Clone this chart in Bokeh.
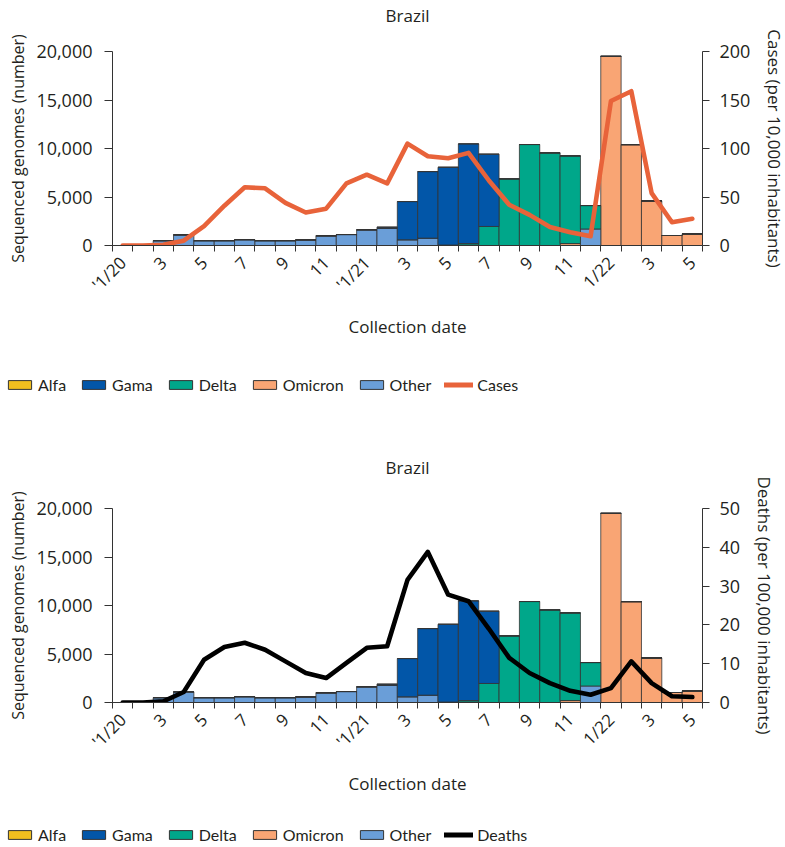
import math
from bokeh.plotting import figure
from bokeh.models import (Range1d, LinearAxis, FixedTicker, NumeralTickFormatter,
                          Legend, LegendItem, ColumnDataSource, Title)
from bokeh.layouts import column, row
from bokeh.embed import file_html
from bokeh.resources import INLINE

# ---------------- data (monthly, Jan 2020 .. May 2022) ----------------
months = ["2020-01", "2020-02", "2020-03", "2020-04", "2020-05", "2020-06",
          "2020-07", "2020-08", "2020-09", "2020-10", "2020-11", "2020-12",
          "2021-01", "2021-02", "2021-03", "2021-04", "2021-05", "2021-06",
          "2021-07", "2021-08", "2021-09", "2021-10", "2021-11", "2021-12",
          "2022-01", "2022-02", "2022-03", "2022-04", "2022-05"]
x_tick_labels = ["'1/20", "", "3", "", "5", "", "7", "", "9", "", "11", "",
                 "'1/21", "", "3", "", "5", "", "7", "", "9", "", "11", "",
                 "1/22", "", "3", "", "5"]

alfa = [0] * 29
gama = [0, 0, 0, 0, 0, 0, 0, 0, 0, 0, 0, 0,
        0, 120, 3940, 6860, 8020, 10280, 7460, 0, 0, 0, 0, 0,
        0, 0, 0, 0, 0]
delta = [0, 0, 0, 0, 0, 0, 0, 0, 0, 0, 0, 0,
         0, 0, 0, 0, 0, 150, 1960, 6870, 10410, 9550, 9040, 2420,
         0, 0, 0, 0, 0]
omicron = [0, 0, 0, 0, 0, 0, 0, 0, 0, 0, 0, 0,
           0, 0, 0, 0, 0, 0, 0, 0, 0, 0, 200, 0,
           19500, 10400, 4600, 1030, 1200]
other = [0, 0, 500, 1100, 500, 500, 600, 500, 500, 580, 1000, 1130,
         1620, 1770, 590, 760, 50, 50, 0, 0, 0, 0, 0, 1700,
         0, 0, 0, 0, 0]

cases = [0, 0, 0.7, 5, 20, 41, 60, 59, 44, 34, 38, 64,
         73, 64, 105, 92, 90, 95.5, 67, 42, 31.6, 19, 13.7, 9.6,
         149, 159, 54, 24, 27.5]
deaths = [0, 0, 0.3, 2.7, 11, 14.3, 15.4, 13.6, 10.6, 7.6, 6.3, 10.2,
          14.1, 14.5, 31.6, 38.8, 27.8, 26.1, 19.0, 11.5, 7.6, 5.0, 3.0, 2.0,
          3.7, 10.6, 5.0, 1.6, 1.4]

left_ticks = [0, 5000, 10000, 15000, 20000]
series_names = ["Alfa", "Gama", "Delta", "Omicron", "Other"]
chart_title = "Brazil"

COL = {"Alfa": "#F1BE1F", "Gama": "#0256A8", "Delta": "#00A78A",
       "Omicron": "#F9A574", "Other": "#6A9ED8"}
TXT = "#231F20"
AX = "#333333"
FONT = "Open Sans"
LEG_FONT = "Lato"

W = 785
FW, FH = 590, 194
LEFT, RIGHT, BOTTOM = 112, 83, 120


def blank_fig(height):
    q = figure(width=W, height=height, output_backend="svg",
               toolbar_location=None, x_range=Range1d(0, W),
               y_range=Range1d(0, height), x_axis_type=None, y_axis_type=None,
               min_border=0, title=None)
    q.outline_line_color = None
    q.xgrid.visible = False
    q.ygrid.visible = False
    return q


def make_chart(line_vals, line_color, r_max, r_ticks, r_label, top, spacer_standoff):
    n = len(months)
    centers = [i + 0.5 for i in range(n)]
    src = ColumnDataSource(dict(x=centers, alfa=alfa, gama=gama, delta=delta,
                                omicron=omicron, other=other, line=line_vals))

    p = figure(frame_width=FW, frame_height=FH, output_backend="svg",
               toolbar_location=None, x_range=Range1d(0, n),
               y_range=Range1d(0, 20000), title=None,
               min_border_left=LEFT, min_border_right=RIGHT,
               min_border_top=top, min_border_bottom=BOTTOM)
    p.outline_line_color = None
    p.xgrid.visible = False
    p.ygrid.visible = False

    # title block: a blank spacer next to the frame, then the title text
    spacer = Title(text=" ", text_font_size="10px", standoff=spacer_standoff)
    p.add_layout(spacer, "above")
    ttl = Title(text=chart_title, align="center", vertical_align="top",
                standoff=6, text_font=FONT, text_font_size="17px",
                text_font_style="normal", text_color=TXT)
    p.add_layout(ttl, "above")

    # stacked bars (bottom -> top)
    stack_order = ["omicron", "other", "delta", "gama", "alfa"]
    fills = [COL["Omicron"], COL["Other"], COL["Delta"], COL["Gama"], COL["Alfa"]]
    p.vbar_stack(stack_order, x="x", width=1.0, source=src,
                 fill_color=fills, line_color=AX, line_width=0.8)

    p.extra_y_ranges = {"r": Range1d(0, r_max)}
    p.line("x", "line", source=src, y_range_name="r", line_color=line_color,
           line_width=4.6, line_join="round", line_cap="round")

    # ---- x axis ----
    xa = p.xaxis[0]
    label_pos = [c for c, t in zip(centers, x_tick_labels) if t]
    xa.ticker = FixedTicker(ticks=label_pos, minor_ticks=list(range(n + 1)))
    xa.major_label_overrides = {c: t for c, t in zip(centers, x_tick_labels) if t}
    xa.major_label_orientation = math.pi / 4
    xa.major_tick_out = 0
    xa.major_tick_in = 0
    xa.minor_tick_out = 6
    xa.minor_tick_in = 0
    xa.minor_tick_line_color = AX
    xa.axis_line_color = AX
    xa.major_label_standoff = 8
    xa.major_label_text_font = FONT
    xa.major_label_text_font_size = "17px"
    xa.major_label_text_color = TXT
    xa.axis_label = "Collection date"
    xa.axis_label_text_font = FONT
    xa.axis_label_text_font_size = "17px"
    xa.axis_label_text_font_style = "normal"
    xa.axis_label_text_color = TXT
    xa.axis_label_standoff = 9

    # ---- left axis ----
    ya = p.yaxis[0]
    ya.ticker = FixedTicker(ticks=left_ticks)
    ya.formatter = NumeralTickFormatter(format="0,0")
    ya.major_tick_out = 8
    ya.major_tick_in = 0
    ya.minor_tick_line_color = None
    ya.axis_line_color = AX
    ya.major_tick_line_color = AX
    ya.major_label_standoff = 12
    ya.major_label_text_font = FONT
    ya.major_label_text_font_size = "18px"
    ya.major_label_text_color = TXT
    ya.axis_label = "Sequenced genomes (number)"
    ya.axis_label_text_font = FONT
    ya.axis_label_text_font_size = "16px"
    ya.axis_label_text_font_style = "normal"
    ya.axis_label_text_color = TXT
    ya.axis_label_standoff = 4

    # ---- right axis ----
    ra = LinearAxis(y_range_name="r", ticker=FixedTicker(ticks=r_ticks))
    ra.major_tick_out = 7
    ra.major_tick_in = 0
    ra.minor_tick_line_color = None
    ra.axis_line_color = AX
    ra.major_tick_line_color = AX
    ra.major_label_standoff = 10
    ra.major_label_text_font = FONT
    ra.major_label_text_font_size = "18px"
    ra.major_label_text_color = TXT
    ra.axis_label = r_label
    ra.axis_label_text_font = FONT
    ra.axis_label_text_font_size = "17px"
    ra.axis_label_text_font_style = "normal"
    ra.axis_label_text_color = TXT
    ra.axis_label_standoff = 10
    p.add_layout(ra, "right")
    return p


def make_legend(line_name, line_color, height, legend_bottom):
    q = blank_fig(height)
    # legend-only renderers: a single point kept outside the visible range
    dummy = ColumnDataSource(dict(x=[-100], y=[0]))
    items = []
    for name in series_names:
        r = q.vbar(x="x", top="y", width=1, source=dummy,
                   fill_color=COL[name], line_color=AX, line_width=1)
        items.append(LegendItem(label=name, renderers=[r]))
    rl = q.line(x="x", y="y", source=dummy, line_color=line_color,
                line_width=5, line_cap="round")
    items.append(LegendItem(label=line_name, renderers=[rl]))
    legend = Legend(items=items, orientation="horizontal",
                    location=(5, legend_bottom),
                    glyph_width=29, glyph_height=11, label_standoff=4,
                    spacing=13, padding=0, margin=0, border_line_color=None,
                    background_fill_alpha=0, label_text_font=LEG_FONT,
                    label_text_font_size="16px", label_text_color=TXT,
                    label_height=16, label_text_baseline="middle")
    q.add_layout(legend)
    return q


p1 = make_chart(cases, "#E8633A", 200, [0, 50, 100, 150, 200],
                "Cases (per 10,000 inhabitants)", 51, 7)
l1 = make_legend("Cases", "#E8633A", 87, 58)
p2 = make_chart(deaths, "#000000", 50, [0, 10, 20, 30, 40, 50],
                "Deaths (per 100,000 inhabitants)", 56, 12)
l2 = make_legend("Deaths", "#000000", 25, 3)

layout = column(p1, row(l1), p2, row(l2), spacing=0)
open("out.html", "w").write(file_html(layout, INLINE))
